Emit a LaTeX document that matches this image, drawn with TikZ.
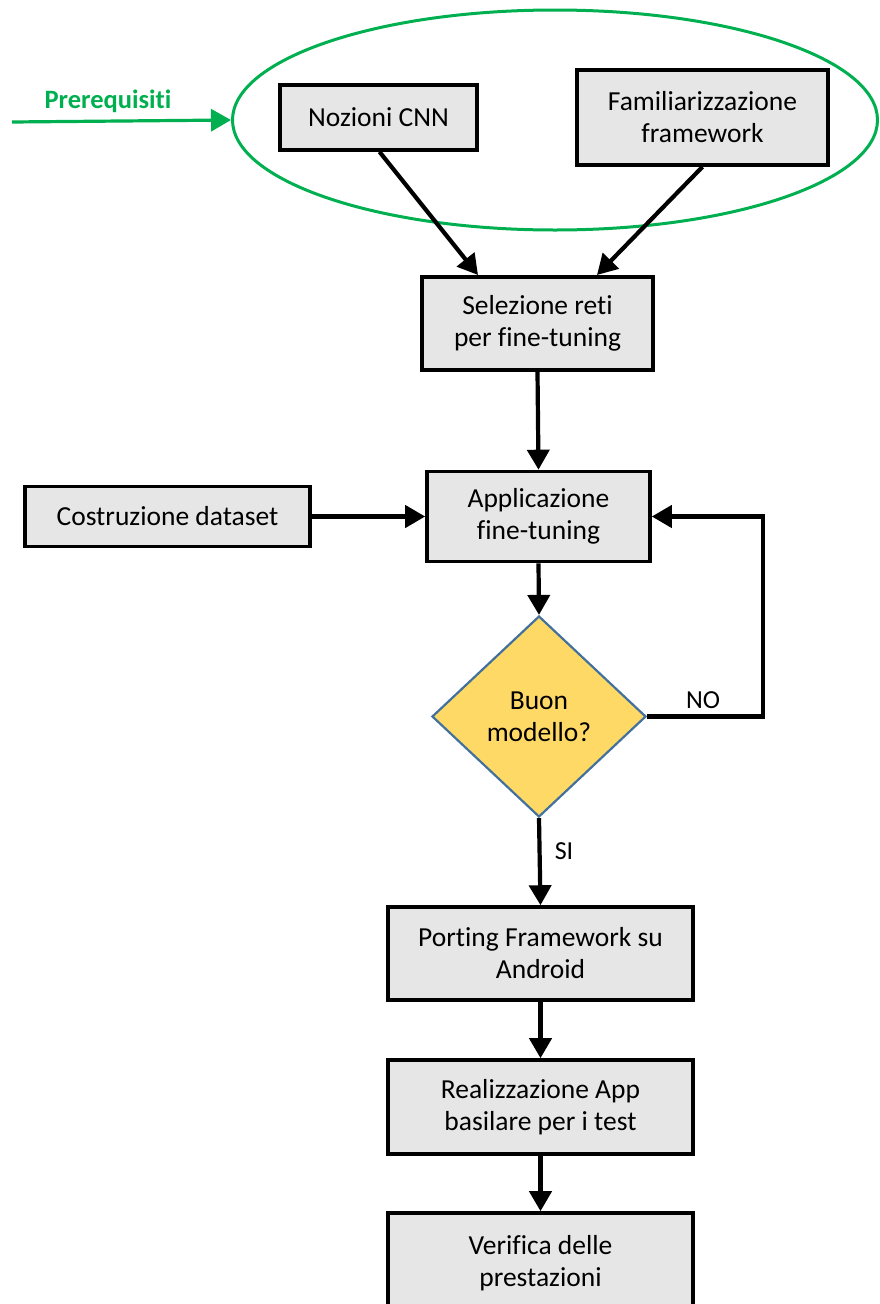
\documentclass[tikz,border=0pt]{standalone}
\usepackage{fontspec}
\setmainfont{Carlito}[Ligatures=NoCommon]
\usetikzlibrary{shapes.geometric,arrows.meta}
\definecolor{boxfill}{RGB}{231,230,230}
\definecolor{prereq}{RGB}{0,176,80}
\definecolor{decfill}{RGB}{255,217,102}
\definecolor{decline}{RGB}{65,113,156}
\tikzset{
  stepbox/.style={draw=black,line width=3.6pt,fill=boxfill,rectangle,align=center,
    inner sep=0pt,font=\fontsize{27.5}{32}\selectfont},
  flow/.style={line width=4.2pt,-{Triangle[length=20pt,width=22pt]}},
  lbl/.style={font=\fontsize{26}{30}\selectfont}
}
\begin{document}
\begin{tikzpicture}[x=1pt,y=-1pt]
\useasboundingbox (0,0) rectangle (879,1304);
% prerequisite group
\node (grp) [draw=prereq,line width=3pt,ellipse,minimum width=645pt,minimum height=220pt,inner sep=0pt] at (555,120) {};
\coordinate (pin) at (12,122);
\node (preq) [lbl,text=prereq,font=\fontsize{26.5}{30}\selectfont\bfseries] at (108,101) {Prerequisiti};
\draw[prereq,line width=3.2pt,-{Triangle[length=20pt,width=22pt]}] (pin) -- (grp.west);
% boxes
\node (cnn) [stepbox,minimum width=197pt,minimum height=65pt] at (378.5,117.5) {Nozioni CNN};
\node (fam) [stepbox,minimum width=251pt,minimum height=95pt] at (702.5,117.5) {Familiarizzazione\\framework};
\node (sel) [stepbox,minimum width=231pt,minimum height=93pt] at (537.5,323.5) {Selezione reti\\per fine-tuning};
\node (app) [stepbox,minimum width=223pt,minimum height=90pt] at (538.5,516.5) {Applicazione\\fine-tuning};
\node (data) [stepbox,minimum width=285pt,minimum height=60pt] at (167.5,516.5) {Costruzione dataset};
\node (dec) [diamond,draw=decline,line width=2.2pt,fill=decfill,inner sep=0pt,aspect=1,
  minimum width=214pt,minimum height=201pt,align=center,font=\fontsize{27.5}{32}\selectfont] at (539,716.5) {Buon\\modello?};
\node (port) [stepbox,minimum width=305pt,minimum height=93pt] at (540.5,953.5) {Porting Framework su\\Android};
\node (real) [stepbox,minimum width=305pt,minimum height=94pt] at (540.5,1107) {Realizzazione App\\basilare per i test};
\node (ver) [stepbox,minimum width=305pt,minimum height=100pt] at (540.5,1263) {Verifica delle\\prestazioni};
% connectors
\draw[flow] (cnn.south) ++(1pt,0) coordinate (c1) (c1) -- (478,275);
\draw[flow] (fam.south) -- (597,275);
\draw[flow] (sel.south) -- (app.north);
\draw[flow] (data.east) -- (app.west);
\draw[flow] (app.south) -- (dec.north);
\draw[flow] (dec.east) -- (763,716.5) |- (app.east);
\node (no) [lbl] at (703,700) {NO};
\draw[flow] (dec.south) -- (port.north);
\node (si) [lbl] at (564,851) {SI};
\draw[flow] (port.south) -- (real.north);
\draw[flow] (real.south) -- (ver.north);
\end{tikzpicture}
\end{document}
